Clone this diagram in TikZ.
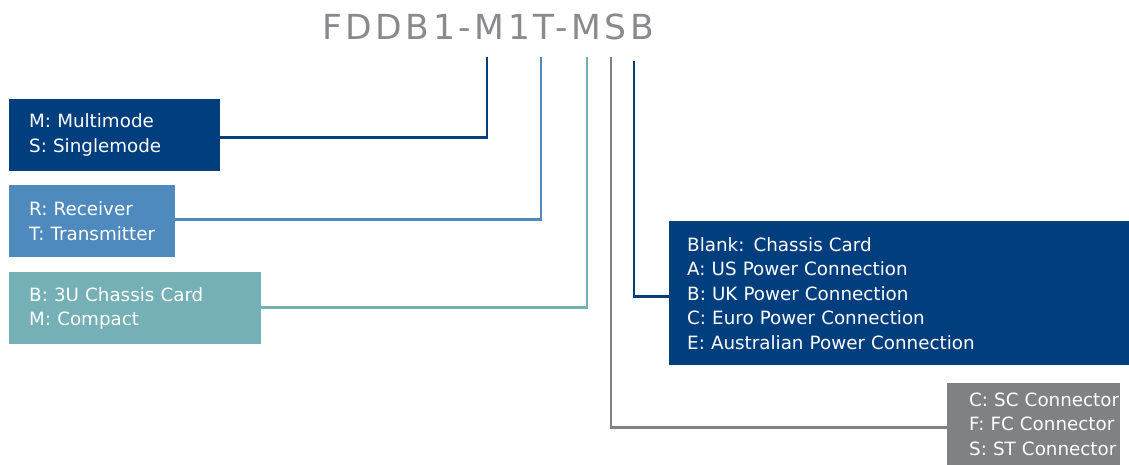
\documentclass[tikz,border=0pt]{standalone}
\usepackage{fontspec}
\setmainfont{DejaVu Sans}
\definecolor{cdark}{HTML}{003E7E}
\definecolor{cblue}{HTML}{4F8ABE}
\definecolor{cteal}{HTML}{74B0B6}
\definecolor{cgray}{HTML}{808184}
\definecolor{ctitle}{HTML}{8A8A8E}
\tikzset{
  optbox/.style={rectangle, inner xsep=2pt, inner ysep=0pt, anchor=north west, text=white,
    font=\fontsize{18.3}{24.5}\selectfont, align=left},
  conn/.style={line width=2.7pt, line join=miter}
}
\begin{document}
\begin{tikzpicture}[x=1pt,y=-1pt]
\useasboundingbox (0,0) rectangle (1129,465);
\node[anchor=base, text=ctitle, font=\fontsize{34.5}{40}\selectfont\addfontfeature{LetterSpace=10.5}] (title) at (488,40) {FDDB1-M1T-MSB};

\node[optbox, fill=cdark, minimum width=211pt, minimum height=72pt, text width=207pt] (b1) at (9,99)
  {\hspace*{18pt}M: Multimode\\\hspace*{18pt}S: Singlemode};
\node[optbox, fill=cblue, minimum width=166pt, minimum height=72pt, text width=162pt] (b2) at (9,185)
  {\hspace*{18pt}R: Receiver\\\hspace*{18pt}T: Transmitter};
\node[optbox, fill=cteal, minimum width=252pt, minimum height=72pt, text width=248pt] (b3) at (9,272)
  {\hspace*{18pt}B: 3U Chassis Card\\\hspace*{18pt}M: Compact};
\node[optbox, fill=cdark, minimum width=460pt, minimum height=144pt, text width=456pt] (b4) at (669,221)
  {\hspace*{16pt}Blank: Chassis Card\\\hspace*{16pt}A: US Power Connection\\\hspace*{16pt}B: UK Power Connection\\\hspace*{16pt}C: Euro Power Connection\\\hspace*{16pt}E: Australian Power Connection};
\node[optbox, fill=cgray, minimum width=173pt, minimum height=82pt, text width=169pt] (b5) at (947,383)
  {\hspace*{20pt}\mbox{C: SC Connector}\\\hspace*{20pt}\mbox{F: FC Connector}\\\hspace*{20pt}\mbox{S: ST Connector}};

\coordinate (t1) at (487,57);
\coordinate (t2) at (541,57);
\coordinate (t3) at (587,57);
\coordinate (t4) at (611,57);
\coordinate (t5) at (634,61);

\draw[conn, cdark] (t1) |- ([yshift=-2pt]b1.east);
\draw[conn, cblue] (t2) |- ([yshift=2pt]b2.east);
\draw[conn, cteal] (t3) |- ([yshift=1pt]b3.east);
\draw[conn, cgray] (t4) |- ([yshift=-3pt]b5.west);
\draw[conn, cdark] (t5) |- ([yshift=-3pt]b4.west);
\end{tikzpicture}
\end{document}
